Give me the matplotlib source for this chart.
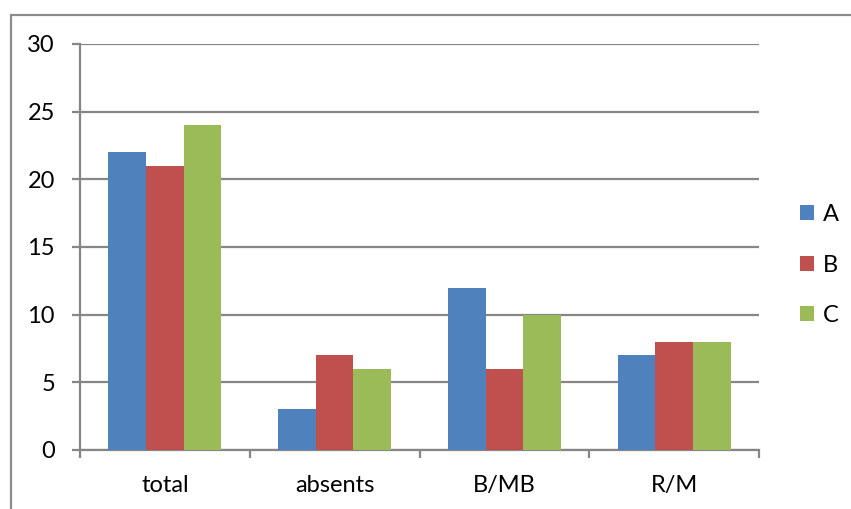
import numpy as np
from matplotlib import pyplot as plt
from matplotlib.patches import Rectangle

# chart data
categories = ['total', 'absents', 'B/MB', 'R/M']
series_names = ['A', 'B', 'C']
values_a = [22, 3, 12, 7]
values_b = [21, 7, 6, 8]
values_c = [24, 6, 10, 8]
colors = ['#4F81BD', '#C0504D', '#9BBB59']

plt.rcParams['font.family'] = ['Lato', 'DejaVu Sans']

fig = plt.figure(figsize=(8.51, 5.09), dpi=100)
ax = fig.add_axes([80 / 851, 1 - 450 / 509, (759 - 80) / 851, (450 - 44) / 509])

x = np.arange(len(categories))
width = 1 / 4.5
for i, (vals, name) in enumerate(zip([values_a, values_b, values_c], series_names)):
    ax.bar(x + (i - 1) * width, vals, width, color=colors[i], label=name, zorder=3)

# axes styling
grid_col = '#868686'
ax.set_xlim(-0.5, len(categories) - 0.5)
ax.set_ylim(0, 30)
ax.set_yticks(range(0, 31, 5))
ax.yaxis.grid(True, color=grid_col, linewidth=1.6, zorder=0)
for side in ['top', 'right']:
    ax.spines[side].set_visible(False)
for side in ['left', 'bottom']:
    ax.spines[side].set_color(grid_col)
    ax.spines[side].set_linewidth(1.6)

ax.tick_params(axis='y', length=6, width=1.6, color=grid_col, pad=12, labelsize=17)
ax.set_xticks(x)
ax.set_xticklabels(categories)
ax.tick_params(axis='x', which='major', length=0, pad=18, labelsize=17)
ax.set_xticks(np.arange(-0.5, len(categories), 1), minor=True)
ax.tick_params(axis='x', which='minor', length=6, width=1.6, color=grid_col)

leg = fig.legend(loc='center left', bbox_to_anchor=(800 / 851, 1 - 265 / 509),
                 frameon=False, fontsize=17, handlelength=0.6, handleheight=0.6,
                 handletextpad=0.35, labelspacing=1.25,
                 borderpad=0, borderaxespad=0)

# outer chart border
fig.patches.append(Rectangle((11 / 851, -0.05), 1.0, 1 - 15 / 509 + 0.05,
                             transform=fig.transFigure, fill=False,
                             edgecolor='#8C8C8C', linewidth=1.6))

fig.savefig('out.png', dpi=100)
